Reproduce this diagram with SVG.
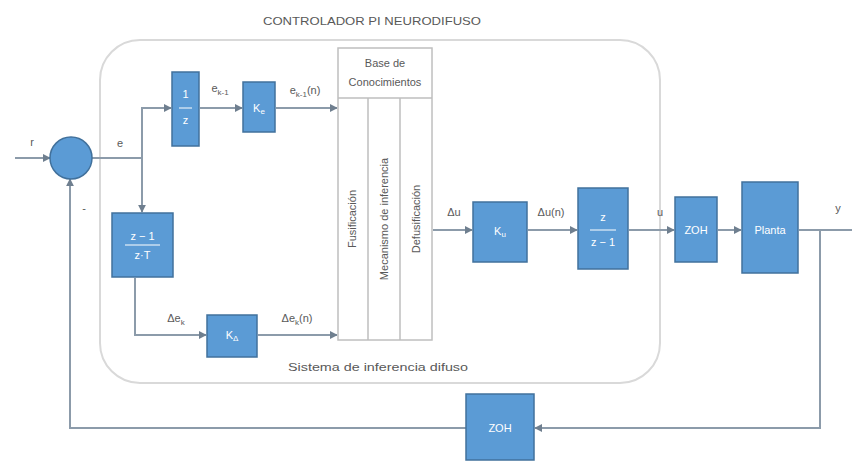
<svg xmlns="http://www.w3.org/2000/svg" width="852" height="462" viewBox="0 0 852 462">
<style>
.blk{fill:#5B9BD5;stroke:#41719C;stroke-width:1.5}
.ln{fill:none;stroke:#8C9BAA;stroke-width:2}
.arr{marker-end:url(#ah)}
.wt{font-family:"Liberation Sans",Arial,sans-serif;font-size:11px;fill:#ffffff;text-anchor:middle}
.lb{font-family:"Liberation Sans",Arial,sans-serif;font-size:11px;fill:#595959;text-anchor:middle}
.gr{fill:none;stroke:#BFBFBF;stroke-width:1.5}
</style>
<defs>
<marker id="ah" viewBox="0 0 10 10" refX="9" refY="5" markerWidth="4" markerHeight="4" orient="auto"><path d="M0,0 L10,5 L0,10 z" fill="#6F7F8F"/></marker>
</defs>
<rect width="852" height="462" fill="#ffffff"/>
<g id="controller-frame">
<rect x="100" y="40" width="560" height="343" rx="40" fill="none" stroke="#D9D9D9" stroke-width="2"/>
<text class="lb" x="372" y="25" font-size="13" textLength="218" lengthAdjust="spacingAndGlyphs">CONTROLADOR PI NEURODIFUSO</text>
<text class="lb" x="378" y="371" font-size="13" textLength="180" lengthAdjust="spacingAndGlyphs">Sistema de inferencia difuso</text>
</g>
<g id="connectors">
<path class="ln arr" d="M15,158 H50"/>
<path class="ln" d="M92,158 H142"/>
<path class="ln arr" d="M142,158 V108 H171"/>
<path class="ln arr" d="M142,158 V212"/>
<path class="ln arr" d="M200,108 H242"/>
<path class="ln arr" d="M276,108 H337"/>
<path class="ln arr" d="M135,278 V335 H206"/>
<path class="ln arr" d="M258,335 H337"/>
<path class="ln arr" d="M433,230 H472"/>
<path class="ln arr" d="M528,230 H577"/>
<path class="ln arr" d="M629,230 H674"/>
<path class="ln arr" d="M718,230 H741"/>
<path class="ln" d="M799,230 H852"/>
<path class="ln arr" d="M820,230 V428 H535"/>
<path class="ln arr" d="M466,428 H70 V179"/>
</g>
<g id="labels">
<text class="lb" x="32" y="146">r</text>
<text class="lb" x="120" y="147">e</text>
<text class="lb" x="84" y="212">-</text>
<text class="lb" x="220" y="92">e<tspan font-size="8" dy="3">k-1</tspan></text>
<text class="lb" x="305" y="94">e<tspan font-size="8" dy="3">k-1</tspan><tspan dy="-3">(n)</tspan></text>
<text class="lb" x="176" y="322">Δe<tspan font-size="8" dy="3">k</tspan></text>
<text class="lb" x="297" y="322">Δe<tspan font-size="8" dy="3">k</tspan><tspan dy="-3">(n)</tspan></text>
<text class="lb" x="454" y="216">Δu</text>
<text class="lb" x="551" y="216">Δu(n)</text>
<text class="lb" x="660" y="216">u</text>
<text class="lb" x="838" y="212">y</text>
</g>
<g id="sum">
<circle cx="71" cy="158" r="21" fill="#5B9BD5" stroke="#41719C" stroke-width="1.5"/>
</g>
<g id="delay">
<rect class="blk" x="172" y="72" width="27" height="74"/>
<text class="wt" x="185.500" y="98">1</text>
<path d="M179,108 H192" stroke="#fff" stroke-width="1"/>
<text class="wt" x="185.500" y="124">z</text>
</g>
<g id="gain-e">
<rect class="blk" x="243" y="82" width="32" height="50"/>
<text class="wt" x="259" y="112">K<tspan font-size="8" dy="2">e</tspan></text>
</g>
<g id="derivative">
<rect class="blk" x="112" y="213" width="61" height="64"/>
<text class="wt" x="142.500" y="240">z − 1</text>
<path d="M125,245 H160" stroke="#fff" stroke-width="1"/>
<text class="wt" x="142.500" y="259">z·T</text>
</g>
<g id="gain-de">
<rect class="blk" x="207" y="315" width="50" height="42"/>
<text class="wt" x="232" y="339">K<tspan font-size="8" dy="2">Δ</tspan></text>
</g>
<g id="knowledge-base">
<rect x="338" y="48" width="94" height="292" class="gr"/>
<path class="gr" d="M338,98 H432 M368,98 V340 M400,98 V340"/>
<text class="lb" x="385" y="67" font-size="10">Base de</text>
<text class="lb" x="385" y="86" font-size="10">Conocimientos</text>
<text class="lb" font-size="10.500" transform="translate(356,219) rotate(-90)">Fusificación</text>
<text class="lb" font-size="10.500" transform="translate(388,219) rotate(-90)">Mecanismo de inferencia</text>
<text class="lb" font-size="10.500" transform="translate(420,219) rotate(-90)">Defusificación</text>
</g>
<g id="gain-u">
<rect class="blk" x="473" y="202" width="54" height="60"/>
<text class="wt" x="500" y="235">K<tspan font-size="8" dy="2">u</tspan></text>
</g>
<g id="integrator">
<rect class="blk" x="578" y="188" width="50" height="81"/>
<text class="wt" x="603" y="221">z</text>
<path d="M590,230 H616" stroke="#fff" stroke-width="1"/>
<text class="wt" x="603" y="246">z − 1</text>
</g>
<g id="zoh">
<rect class="blk" x="675" y="197" width="42" height="65"/>
<text class="wt" x="696" y="234" font-size="10">ZOH</text>
</g>
<g id="plant">
<rect class="blk" x="742" y="182" width="56" height="91"/>
<text class="wt" x="770" y="234">Planta</text>
</g>
<g id="sensor">
<rect class="blk" x="466" y="394" width="68" height="66"/>
<text class="wt" x="500" y="432" font-size="10">ZOH</text>
</g>
</svg>
